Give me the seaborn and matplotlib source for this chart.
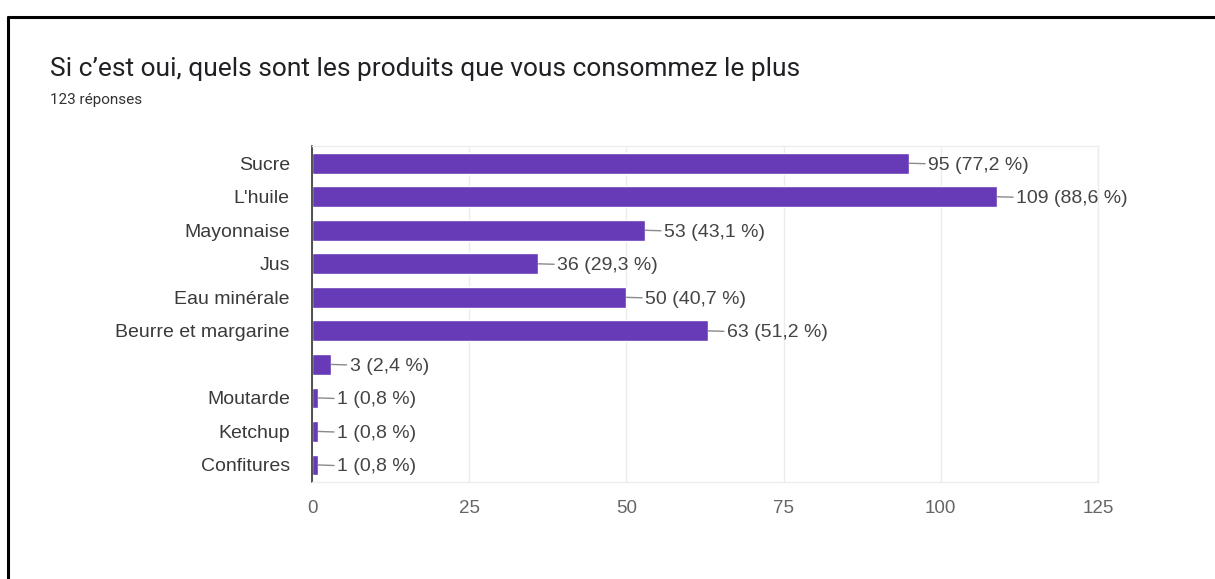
import matplotlib
matplotlib.use("Agg")
import matplotlib.pyplot as plt
from matplotlib.lines import Line2D
import seaborn as sns
import pandas as pd

# Survey answers: product -> number of respondents
products = ["Sucre", "L'huile", "Mayonnaise", "Jus", "Eau minérale",
            "Beurre et margarine", "", "Moutarde", "Ketchup", "Confitures"]
counts = [95, 109, 53, 36, 50, 63, 3, 1, 1, 1]
percents = [77.2, 88.6, 43.1, 29.3, 40.7, 51.2, 2.4, 0.8, 0.8, 0.8]
x_ticks = [0, 25, 50, 75, 100, 125]

title = "Si c\u2019est oui, quels sont les produits que vous consommez le plus"
subtitle = "123 réponses"

df = pd.DataFrame({"produit": products, "n": counts, "pct": percents})

sns.set_theme(style="whitegrid")
plt.rcParams["font.family"] = ["Liberation Sans", "DejaVu Sans"]

fig = plt.figure(figsize=(12.15, 5.79), dpi=100)
ax = fig.add_axes([0.2568, 0.168, 0.6469, 0.579])

bar_color = "#673ab7"
sns.barplot(data=df, x="n", y="produit", order=products, orient="h",
            color=bar_color, saturation=1, width=0.62, ax=ax)

ax.set_xlim(0, 125)
ax.set_ylim(len(products) - 0.5, -0.5)
ax.set_xticks(x_ticks)
ax.set_xticklabels([str(t) for t in x_ticks])
ax.set_xlabel("")
ax.set_ylabel("")

ax.grid(axis="x", color="#ebebeb", linewidth=1)
ax.grid(axis="y", visible=False)
ax.set_facecolor("white")
for side in ("top", "right", "bottom"):
    ax.spines[side].set_color("#ededed")
    ax.spines[side].set_linewidth(1)
ax.spines["left"].set_color("#333333")
ax.spines["left"].set_linewidth(1.2)

ax.tick_params(axis="x", colors="#666666", labelsize=13.5, length=0, pad=13)
ax.tick_params(axis="y", colors="#3a3a3a", labelsize=14, length=0, pad=16)
for lbl in ax.get_yticklabels():
    lbl.set_color("#3a3a3a")

# value labels with short leader lines
for i, (n, p) in enumerate(zip(counts, percents)):
    ax.annotate(f"{n} ({p:.1f} %)".replace(".", ","),
                xy=(n, i), xytext=(19, 0), textcoords="offset pixels",
                ha="left", va="center_baseline", fontsize=14, color="#444444",
                arrowprops=dict(arrowstyle="-", color="#8a8a8a", lw=1,
                                shrinkA=0, shrinkB=0))

fig.text(0.041, 0.880, title, fontsize=19, color="#202124",
         family=["Roboto", "DejaVu Sans"], va="center", ha="left")
fig.text(0.041, 0.827, subtitle, fontsize=11, color="#333333",
         family=["Roboto", "DejaVu Sans"], va="center", ha="left")

# page frame around the chart
fig.add_artist(Line2D([8 / 1215, 1.0], [1 - 17 / 579, 1 - 17 / 579],
                      transform=fig.transFigure, color="black", lw=2.2))
fig.add_artist(Line2D([8 / 1215, 8 / 1215], [0.0, 1 - 17 / 579],
                      transform=fig.transFigure, color="black", lw=2.2))

fig.savefig("out.png", dpi=100, facecolor="white")
